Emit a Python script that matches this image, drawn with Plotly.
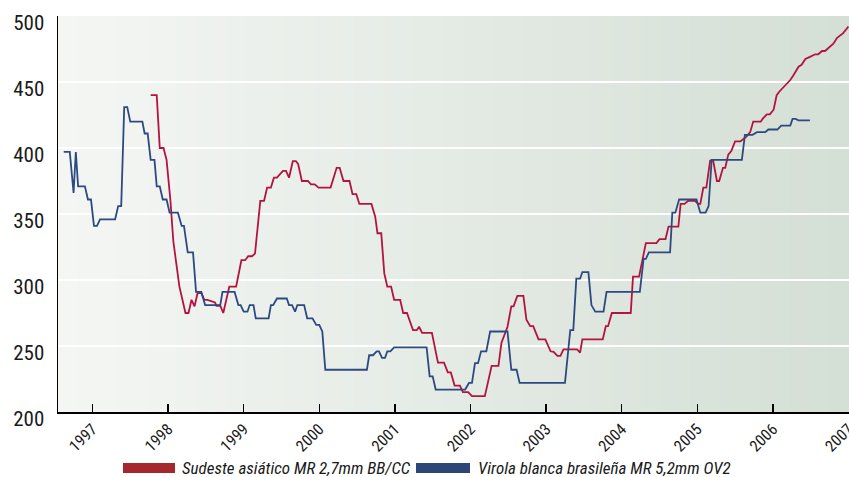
import plotly.graph_objects as go

# ---- Data ----
red_x = [1997.77, 1997.85, 1997.89, 1997.94, 1997.98, 1998.03, 1998.07, 1998.11, 1998.15, 1998.19,
         1998.23, 1998.27, 1998.31, 1998.35, 1998.39, 1998.44, 1998.48, 1998.52, 1998.57, 1998.62,
         1998.64, 1998.69, 1998.73, 1998.81, 1998.90, 1998.97, 1999.02, 1999.06, 1999.11, 1999.15,
         1999.22, 1999.27, 1999.31, 1999.36, 1999.40, 1999.44, 1999.52, 1999.56, 1999.60, 1999.65,
         1999.69, 1999.72, 1999.77, 1999.85, 1999.89, 1999.94, 1999.99, 2000.15, 2000.23, 2000.27,
         2000.32, 2000.40, 2000.44, 2000.49, 2000.53, 2000.69, 2000.74, 2000.77, 2000.82, 2000.86,
         2000.90, 2000.95, 2000.99, 2001.07, 2001.11, 2001.16, 2001.24, 2001.29, 2001.32, 2001.36,
         2001.49, 2001.57, 2001.65, 2001.70, 2001.74, 2001.79, 2001.86, 2001.90, 2001.97, 2002.02,
         2002.19, 2002.28, 2002.37, 2002.41, 2002.49, 2002.54, 2002.57, 2002.62, 2002.70, 2002.74,
         2002.79, 2002.83, 2002.90, 2002.99, 2003.06, 2003.10, 2003.15, 2003.19, 2003.23, 2003.41,
         2003.45, 2003.48, 2003.75, 2003.79, 2003.82, 2003.87, 2004.12, 2004.15, 2004.23, 2004.32,
         2004.46, 2004.50, 2004.58, 2004.62, 2004.75, 2004.78, 2004.83, 2004.88, 2004.97, 2005.01,
         2005.04, 2005.08, 2005.12, 2005.17, 2005.21, 2005.26, 2005.29, 2005.34, 2005.37, 2005.41,
         2005.45, 2005.50, 2005.57, 2005.61, 2005.65, 2005.70, 2005.74, 2005.84, 2005.87, 2005.92,
         2005.96, 2006.01, 2006.05, 2006.09, 2006.16, 2006.23, 2006.27, 2006.34, 2006.38, 2006.43,
         2006.49, 2006.56, 2006.60, 2006.65, 2006.69, 2006.76, 2006.80, 2006.85, 2006.89, 2006.93,
         2007.00]
red_y = [440, 440, 400, 400, 391, 361, 329, 310, 295, 285,
         275, 275, 285, 280, 290, 290, 285, 285, 284, 283,
         280.5, 280.5, 275, 295, 295, 315, 315, 318, 318, 320,
         360, 360, 370, 370, 377.5, 377.5, 382.6, 382.6, 377.5, 390,
         390, 388, 375, 375, 372.5, 372.5, 370, 370, 385, 385,
         375, 375, 365, 365, 357.6, 357.6, 348, 335.4, 335.4, 305,
         295, 295, 285, 285, 275, 275, 262, 262, 264.6, 260,
         260, 237.4, 237.4, 230, 230, 220, 220, 215, 215, 212,
         212, 235, 235, 252.5, 264.6, 280, 280, 288, 288, 270,
         265, 265, 255, 255, 246, 245.5, 242.5, 242.5, 247.5, 247.5,
         245, 255, 255, 265, 265, 275, 275, 302.5, 302.5, 328,
         328, 331, 331, 340.5, 340.5, 357.6, 357.6, 360, 360, 357.6,
         357.6, 370, 370, 390.5, 390.5, 375, 375, 385, 385, 395,
         397.7, 405, 405, 407, 408.6, 412, 420, 420, 422.5, 425.5,
         425.5, 429, 440, 443, 447, 451.5, 455, 461.6, 463, 467.4,
         469, 471, 471, 473.5, 473.5, 477, 479, 483.5, 485, 487,
         492]

blue_x = [1996.62, 1996.70, 1996.75, 1996.78, 1996.81, 1996.90, 1996.94, 1996.98, 1997.02, 1997.06,
          1997.10, 1997.30, 1997.34, 1997.38, 1997.42, 1997.46, 1997.50, 1997.66, 1997.69, 1997.73,
          1997.77, 1997.82, 1997.85, 1997.89, 1997.93, 1997.98, 1998.02, 1998.13, 1998.18, 1998.21,
          1998.26, 1998.33, 1998.37, 1998.44, 1998.49, 1998.69, 1998.72, 1998.88, 1998.93, 1998.96,
          1999.00, 1999.05, 1999.08, 1999.13, 1999.16, 1999.33, 1999.36, 1999.39, 1999.44, 1999.57,
          1999.60, 1999.64, 1999.68, 1999.71, 1999.80, 1999.84, 1999.91, 1999.96, 2000.00, 2000.04,
          2000.08, 2000.63, 2000.66, 2000.71, 2000.76, 2000.79, 2000.83, 2000.87, 2000.90, 2000.94,
          2000.99, 2001.42, 2001.46, 2001.50, 2001.54, 2001.93, 2001.98, 2002.02, 2002.06, 2002.10,
          2002.14, 2002.21, 2002.26, 2002.49, 2002.54, 2002.61, 2002.65, 2003.25, 2003.32, 2003.36,
          2003.40, 2003.45, 2003.48, 2003.56, 2003.60, 2003.65, 2003.76, 2003.80, 2004.24, 2004.29,
          2004.32, 2004.36, 2004.64, 2004.67, 2004.71, 2004.76, 2004.99, 2005.04, 2005.11, 2005.15,
          2005.19, 2005.59, 2005.63, 2005.73, 2005.79, 2005.90, 2005.94, 2006.06, 2006.11, 2006.23,
          2006.26, 2006.30, 2006.34, 2006.49]
blue_y = [397, 397, 366, 397, 371, 371, 361, 361, 341, 341,
          346, 346, 356, 356, 431, 431, 420, 420, 411, 411,
          391, 391, 371, 371, 361, 361, 351, 351, 341, 341,
          321, 321, 291, 291, 281, 281, 291, 291, 281, 281,
          276, 276, 281, 281, 271, 271, 281, 281, 286, 286,
          281, 281, 276, 281, 281, 271, 271, 266, 266, 261,
          232, 232, 243, 243, 246, 246, 241, 241, 246, 246,
          249, 249, 227, 227, 217, 217, 222, 222, 237, 237,
          246, 246, 261, 261, 232, 232, 222, 222, 262, 262,
          301, 301, 306, 306, 281, 276, 276, 291, 291, 316,
          316, 321, 321, 351, 351, 361, 361, 351, 351, 356,
          391, 391, 410, 410, 412, 412, 414, 414, 417, 417,
          422, 422, 421, 421]

years = [1997, 1998, 1999, 2000, 2001, 2002, 2003, 2004, 2005, 2006, 2007]
y_ticks = [200, 250, 300, 350, 400, 450, 500]
series_names = ["Sudeste asiático MR 2,7mm BB/CC", "Virola blanca brasileña MR 5,2mm OV2"]

RED = "#b3143f"
BLUE = "#2d4a80"
RED_SW = "#a6262e"
BLUE_SW = "#2c4677"
FONT = "Liberation Sans Narrow, Arial Narrow, Roboto Condensed, Liberation Sans, sans-serif"

fig = go.Figure()
fig.add_trace(go.Scatter(x=red_x, y=red_y, mode="lines", name=series_names[0],
                         line=dict(color=RED, width=1.8), showlegend=False))
fig.add_trace(go.Scatter(x=blue_x, y=blue_y, mode="lines", name=series_names[1],
                         line=dict(color=BLUE, width=1.8), showlegend=False))

# gradient background via strips
shapes = []
N = 80
c0 = (244, 246, 244)
c1 = (212, 223, 213)
for i in range(N):
    t = i / (N - 1)
    c = tuple(round(c0[k] + (c1[k] - c0[k]) * t) for k in range(3))
    shapes.append(dict(type="rect", xref="paper", yref="paper",
                       x0=i / N, x1=(i + 1) / N + 0.002, y0=0, y1=1,
                       fillcolor="rgb(%d,%d,%d)" % c, line=dict(width=0), layer="below"))

# manual legend swatches
W, PL, PT, PH = 849, 58, 16, 396
PW = W - PL
def px(x):
    return (x - PL) / PW
def py(y):
    return (PT + PH - y) / PH
shapes.append(dict(type="rect", xref="paper", yref="paper", x0=px(123), x1=px(175),
                   y0=py(473), y1=py(463), fillcolor=RED_SW, line=dict(width=0)))
shapes.append(dict(type="rect", xref="paper", yref="paper", x0=px(416), x1=px(470),
                   y0=py(473), y1=py(463), fillcolor=BLUE_SW, line=dict(width=0)))

annotations = [
    dict(xref="paper", yref="paper", x=px(180), y=py(468), xanchor="left", yanchor="middle",
         text="<i>" + series_names[0] + "</i>", showarrow=False,
         font=dict(family=FONT, size=17, color="#1a1a1a")),
    dict(xref="paper", yref="paper", x=px(476), y=py(468), xanchor="left", yanchor="middle",
         text="<i>" + series_names[1] + "</i>", showarrow=False,
         font=dict(family=FONT, size=17, color="#1a1a1a")),
]

fig.update_layout(
    width=849, height=477,
    margin=dict(l=58, r=0, t=16, b=65, autoexpand=False),
    paper_bgcolor="white", plot_bgcolor="rgba(0,0,0,0)",
    shapes=shapes, annotations=annotations,
    showlegend=False,
    xaxis=dict(range=[1996.544, 2007.007], tickvals=years, ticktext=[str(y) for y in years],
               tickangle=-45, ticks="inside", ticklen=8, tickwidth=1.5, tickcolor="black",
               showline=True, linecolor="black", linewidth=1.5, showgrid=False, zeroline=False,
               automargin=False, ticklabeloverflow="allow",
               tickfont=dict(family=FONT, size=16, color="#1a1a1a")),
    yaxis=dict(range=[200, 500], tickvals=y_ticks, showgrid=True, gridcolor="white", gridwidth=2,
               showline=True, linecolor="black", linewidth=1.5, zeroline=False, ticks="",
               automargin=False, ticklabelstandoff=8, ticklabelshift=7,
               tickfont=dict(family=FONT, size=21, color="#1a1a1a")),
)

fig.write_html("out.html", config={"displayModeBar": False, "staticPlot": True},
               post_script="document.body.style.margin='0';document.body.style.overflow='hidden';")
